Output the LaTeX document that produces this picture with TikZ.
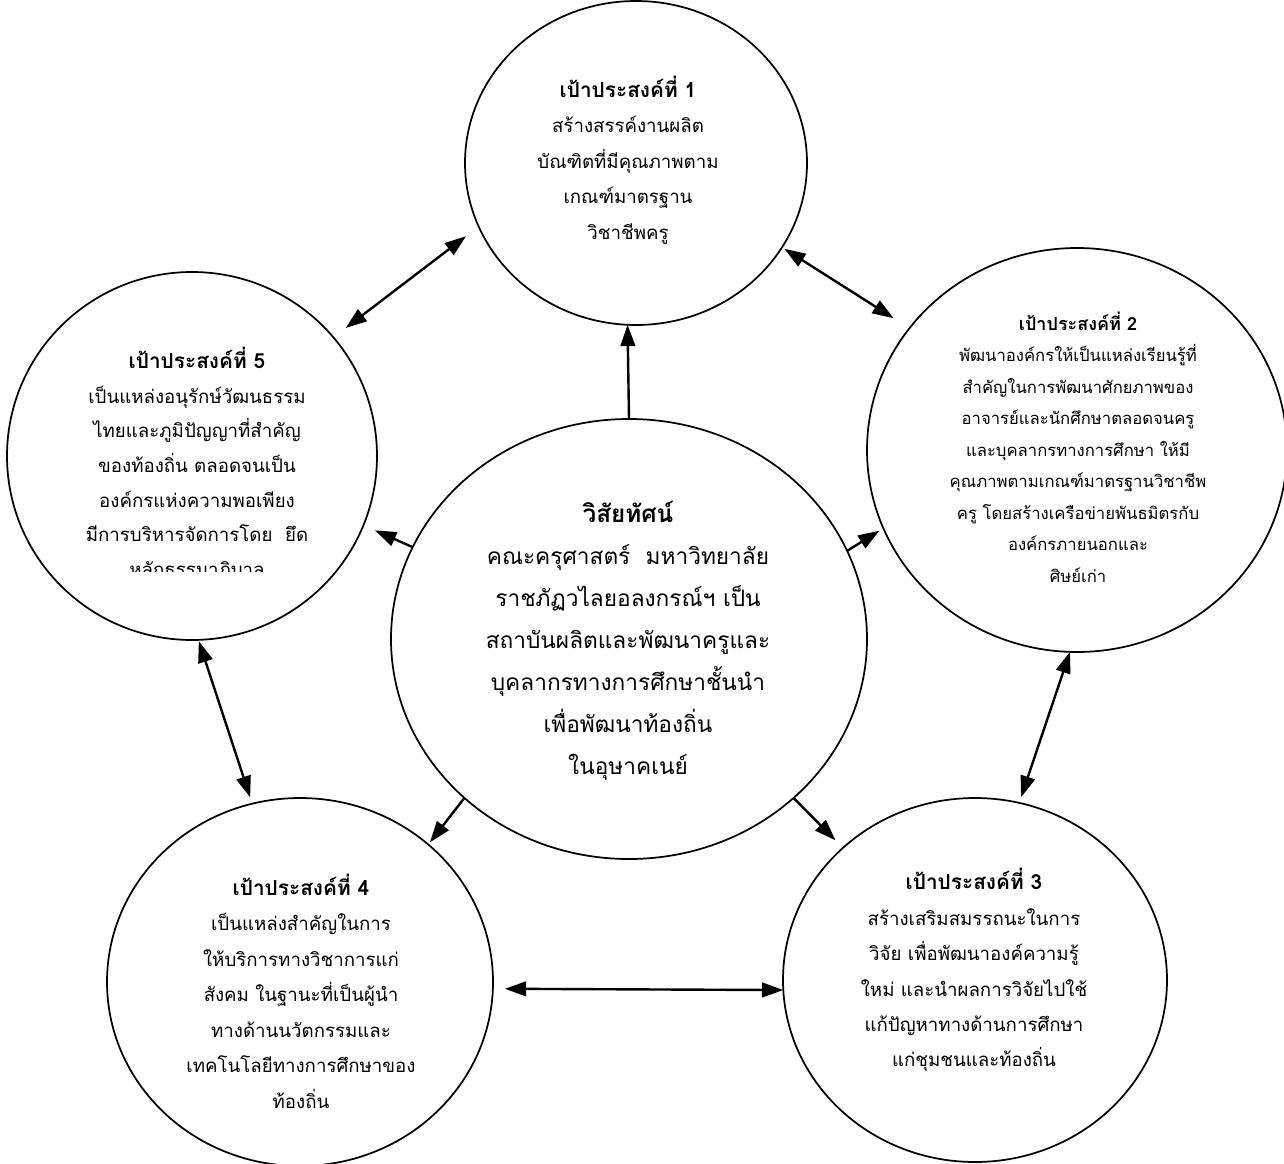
\documentclass[tikz,border=0pt]{standalone}
\usepackage{fontspec}
\newfontfamily\thai[Script=Thai]{Loma}
\usetikzlibrary{shapes.geometric,arrows.meta}
\newcommand{\ghead}[1]{{\bfseries\fontsize{15.6}{26.6}\selectfont #1}}
\begin{document}
\begin{tikzpicture}[x=0.75pt,y=-0.75pt,
  goal/.style={draw, ellipse, line width=1.3pt, inner sep=0pt, outer sep=0pt},
  gtext/.style={align=center, inner sep=0pt, font=\thai\fontsize{14}{26.6}\selectfont},
  ctext/.style={align=center, inner sep=0pt, font=\thai\fontsize{17}{31.5}\selectfont},
  tip/.tip={Triangle[length=16pt,width=11pt]},
  link/.style={line width=1.8pt, -tip},
  both/.style={line width=1.8pt, tip-tip},
]
\useasboundingbox (0,0) rectangle (1284,1163);
\fill[white] (0,0) rectangle (1284,1163);

% circles
\node[goal, minimum width=256.5pt, minimum height=243pt] (c1) at (636,163) {};
\node[goal, minimum width=315pt, minimum height=303pt] (c2) at (1077,450) {};
\node[goal, minimum width=288pt, minimum height=273pt] (c3) at (975,980) {};
\node[goal, minimum width=289.5pt, minimum height=276pt] (c4) at (300,982) {};
\node[goal, minimum width=277.5pt, minimum height=276pt] (c5) at (192,456) {};
\node[goal, minimum width=357pt, minimum height=330pt] (C) at (629,639) {};

% texts
\node[gtext] (t1) at (628,160) {\ghead{เป้าประสงค์ที่ 1}\\สร้างสรรค์งานผลิต\\บัณฑิตที่มีคุณภาพตาม\\เกณฑ์มาตรฐาน\\วิชาชีพครู};
\node[gtext, font=\thai\fontsize{12.5}{23.6}\selectfont] (t2) at (1078,447) {{\bfseries\fontsize{13.5}{23.6}\selectfont เป้าประสงค์ที่ 2}\\พัฒนาองค์กรให้เป็นแหล่งเรียนรู้ที่\\สำคัญในการพัฒนาศักยภาพของ\\อาจารย์และนักศึกษาตลอดจนครู\\และบุคลากรทางการศึกษา ให้มี\\คุณภาพตามเกณฑ์มาตรฐานวิชาชีพ\\ครู โดยสร้างเครือข่ายพันธมิตรกับ\\องค์กรภายนอกและ\\ศิษย์เก่า};
\node[gtext] (t3) at (974,970) {\ghead{เป้าประสงค์ที่ 3}\\สร้างเสริมสมรรถนะในการ\\วิจัย เพื่อพัฒนาองค์ความรู้\\ใหม่ และนำผลการวิจัยไปใช้\\แก้ปัญหาทางด้านการศึกษา\\แก่ชุมชนและท้องถิ่น};
\node[gtext] (t4) at (301,991) {\ghead{เป้าประสงค์ที่ 4}\\เป็นแหล่งสำคัญในการ\\ให้บริการทางวิชาการแก่\\สังคม ในฐานะที่เป็นผู้นำ\\ทางด้านนวัตกรรมและ\\เทคโนโลยีทางการศึกษาของ\\ท้องถิ่น};
\begin{scope}
\clip (0,0) rectangle (1284,571);
\node[gtext, font=\thai\fontsize{14}{26}\selectfont] (t5) at (197,462) {{\bfseries\fontsize{15.6}{26}\selectfont เป้าประสงค์ที่ 5}\\เป็นแหล่งอนุรักษ์วัฒนธรรม\\ไทยและภูมิปัญญาที่สำคัญ\\ของท้องถิ่น ตลอดจนเป็น\\องค์กรแห่งความพอเพียง\\มีการบริหารจัดการโดย~ ยึด\\หลักธรรมาภิบาล};
\end{scope}
\node[ctext] (tC) at (628,641) {{\bfseries\fontsize{18.2}{31.5}\selectfont วิสัยทัศน์}\\คณะครุศาสตร์~ มหาวิทยาลัย\\ราชภัฏวไลยอลงกรณ์ฯ เป็น\\สถาบันผลิตและพัฒนาครูและ\\บุคลากรทางการศึกษาชั้นนำ\\เพื่อพัฒนาท้องถิ่น\\ในอุษาคเนย์};

% connectors
\draw[link] (C.90.3) -- (c1.267.2);
\draw[both, shorten <=12pt, shorten >=11.5pt] (c1.202.8) -- (c5.40.9);
\draw[both, shorten <=2pt, shorten >=14pt] (c1.-30) -- (c2.144);
\draw[link, shorten >=9.5pt] (C.157.4) -- (c5.-22.9);
\draw[link, shorten >=3.5pt] (C.22.6) -- (c2.202.6);
\draw[both, shorten <=1pt, shorten >=5pt] (c5.-88.4) -- (c4.105.1);
\draw[both, shorten >=4.5pt] (c2.268) -- (c3.76.2);
\draw[link, shorten >=2pt] (C.224.5) -- (c4.47.8);
\draw[link, shorten >=8pt] (C.-44.1) -- (c3.135.8);
\draw[both, shorten <=9pt] (c4.-2.8) -- (c3.183.6);
\end{tikzpicture}
\end{document}
